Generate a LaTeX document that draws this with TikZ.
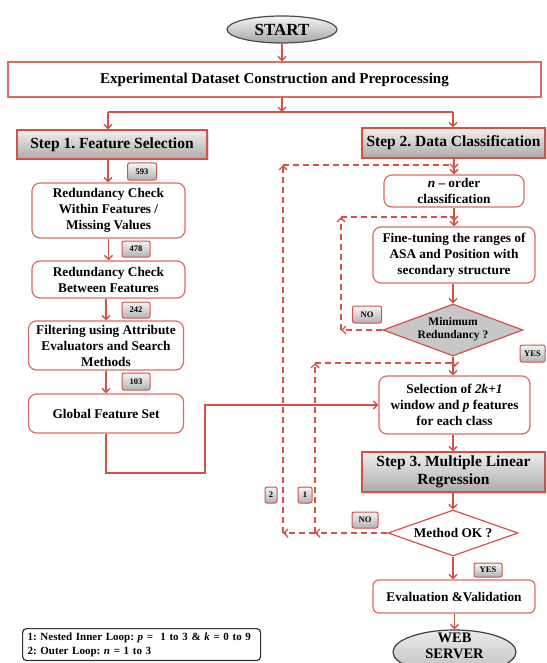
\documentclass[tikz,border=0pt]{standalone}
\usepackage{fontspec}
\setmainfont{Liberation Serif}
\usetikzlibrary{arrows.meta,shadows,calc,shapes.geometric}
\definecolor{rd}{RGB}{210,82,72}
\definecolor{bx}{RGB}{220,108,98}
\frenchspacing
\tikzset{
 tipa/.tip={Straight Barb[length=4pt,width=8pt]},
 arr/.style={draw=rd, line width=1.4pt, -tipa},
 ln/.style={draw=rd, line width=1.4pt},
 dsh/.style={draw=rd, line width=1.4pt, dash pattern=on 6pt off 4pt, -tipa},
 txt/.style={font=\fontsize{13.3}{16}\selectfont\bfseries, align=center},
 rbox/.style={txt, draw=bx, line width=1.2pt, rounded corners=8pt, fill=white, inner sep=0pt},
 stepbox/.style={draw=rd, line width=1.2pt, top color=white!94!black, bottom color=black!33,
   align=center, font=\fontsize{15.5}{18}\selectfont\bfseries, inner sep=0pt,
   drop shadow={opacity=0.25,shadow xshift=1.5pt,shadow yshift=-1.5pt}},
 tag/.style={draw=rd, line width=1pt, rounded corners=2pt, top color=white!96!black,
   bottom color=black!30, font=\fontsize{8.5}{9}\selectfont\bfseries, inner sep=0pt},
 term/.style={ellipse, draw=black!70, line width=1.2pt, top color=white!96!black, bottom color=black!35,
   align=center, inner sep=0pt},
}
\begin{document}
\begin{tikzpicture}[x=1pt,y=-1pt]
\useasboundingbox (0,0) rectangle (546,663);
\fill[white] (0,0) rectangle (546,663);

% top
\node[term, minimum width=110pt, minimum height=27pt, font=\fontsize{17}{18}\selectfont\bfseries] (start) at (282,29.5) {START};
\node[draw=bx, line width=1.2pt, fill=white, minimum width=533pt, minimum height=35pt, inner sep=0pt,
  font=\fontsize{15}{18}\selectfont\bfseries] (exp) at (274.5,79.5) {Experimental Dataset Construction and Preprocessing};
\coordinate (split) at (282,112);
\coordinate (sl) at (108,112);
\coordinate (sr) at (453,112);
\draw[arr] (start.south) -- (start.south |- exp.north);
\draw[arr] (split |- exp.south) -- (split);
\draw[ln] (sl) -- (sr);

\node[stepbox, minimum width=190pt, minimum height=29pt] (step1) at (112,144.5) {Step 1. Feature Selection};
\node[stepbox, minimum width=183pt, minimum height=30pt] (step2) at (453.5,143) {Step 2. Data Classification};
\draw[arr] (sl) -- (sl |- step1.north);
\draw[arr] (sr) -- (sr |- step2.north);

% left column
\node[rbox, minimum width=153pt, minimum height=55pt] (r1) at (108.5,210.5) {Redundancy Check\\Within Features /\\Missing Values};
\node[rbox, minimum width=153pt, minimum height=37pt] (r2) at (108.5,279.5) {Redundancy Check\\Between Features};
\node[rbox, minimum width=155pt, minimum height=49pt] (r3) at (106,345.5) {Filtering using Attribute\\Evaluators and Search\\Methods};
\node[rbox, minimum width=155pt, minimum height=39pt] (glob) at (106,413.5) {Global Feature Set};

\draw[arr] (sl |- step1.south) -- (sl |- r1.north);
\draw[arr] (r1.south) -- (r2.north);
\draw[arr] (r2.south -| r3.north) -- (r3.north);
\draw[arr] (r3.south) -- (glob.north);

\node[tag, minimum width=29pt, minimum height=17pt] (t593) at (142,171.5) {593};
\node[tag, minimum width=28pt, minimum height=16pt] (t478) at (136,249) {478};
\node[tag, minimum width=28pt, minimum height=16pt] (t242) at (136,310) {242};
\node[tag, minimum width=28pt, minimum height=17pt] (t103) at (136,381.5) {103};

% right column
\node[rbox, minimum width=140pt, minimum height=32pt] (nord) at (454,191) {\textit{n} -- order\\classification};
\node[rbox, minimum width=162pt, minimum height=56pt] (ft) at (454,255) {Fine-tuning the ranges of\\ASA and Position with\\secondary structure};
\node[diamond, draw=rd, line width=1.2pt, fill=black!22, minimum width=140pt, minimum height=52pt, inner sep=0pt] (mr) at (453,330) {};
\node[font=\fontsize{11.5}{13}\selectfont\bfseries, align=center] (mrt) at (453,329) {Minimum\\Redundancy ?};
\node[rbox, minimum width=151pt, minimum height=58pt] (sel) at (454.5,405) {Selection of \textit{2k+1}\\window and \textit{p} features\\for each class};
\node[stepbox, minimum width=183pt, minimum height=40pt] (step3) at (453.5,472) {Step 3. Multiple Linear\\Regression};
\node[diamond, draw=rd, line width=1.2pt, fill=white, minimum width=130pt, minimum height=46pt, inner sep=0pt] (mok) at (453,533) {};
\node[txt] (mokt) at (453,533) {Method OK ?};
\node[rbox, rounded corners=6pt, minimum width=162pt, minimum height=33pt] (eval) at (454,596.5) {Evaluation \&Validation};
\node[term, draw=black!75, top color=black!8, bottom color=black!25, minimum width=123pt, minimum height=44pt] (web) at (454.5,652) {};
\node[font=\fontsize{14.5}{15.5}\selectfont\bfseries, align=center] (webt) at (454.5,646) {WEB\\SERVER};

\draw[arr] (step2.south -| nord.north) -- (nord.north);
\draw[arr] (nord.south) -- (ft.north);
\draw[arr] (ft.south -| mr.north) -- (mr.north);
\draw[arr] (mr.south) -- (mr.south |- sel.north);
\draw[arr] (sel.south -| mr.south) -- (mr.south |- step3.north);
\draw[arr] (step3.south -| mok.north) -- (mok.north);
\draw[arr] (mok.south) -- (mok.south |- eval.north);
\draw[arr] (eval.south -| web.north) -- (web.north);

\node[tag, minimum width=29pt, minimum height=17pt] (no1) at (367,314.5) {NO};
\node[tag, minimum width=25pt, minimum height=17pt] (yes1) at (532.5,353.5) {YES};
\node[tag, minimum width=26pt, minimum height=16pt] (no2) at (365,520) {NO};
\node[tag, minimum width=28pt, minimum height=14pt] (yes2) at (488,570) {YES};
\node[tag, minimum width=12pt, minimum height=16pt] (tg2) at (271,495) {2};
\node[tag, minimum width=14pt, minimum height=16pt] (tg1) at (305,495) {1};

% global feature set to selection
\coordinate (g1) at (106,473);
\coordinate (g2) at (205,473);
\coordinate (g3) at (205,405);
\draw[arr] (glob.south) -- (g1) -- (g2) -- (g3) -- (sel.west);

% dashed loops
\coordinate (c0b) at (341,330);
\coordinate (c0t) at (341,217);
\coordinate (c1b) at (315,533);
\coordinate (c1t) at (315,363);
\coordinate (c2b) at (283,533);
\coordinate (c2t) at (283,165);
\draw[dsh] (mr.west) -- (c0b);
\draw[dsh] (c0b) -- (c0t);
\draw[dsh] (c0t) -- (c0t -| ft.north) -- ++(0,4);
\draw[dsh] (mok.west) -- (c1b);
\draw[dsh] (c1b) -- (c2b);
\draw[dsh] (c1b) -- (c1t);
\draw[dsh] (c1t) -- (c1t -| sel.north) -- ++(0,4);
\draw[dsh] (c2b) -- (c2t);
\draw[dsh] (c2t) -- (c2t -| nord.north) -- ++(0,4);

% legend
\node[draw=black!80, line width=1.2pt, rounded corners=4pt, align=left, anchor=north west,
  text width=228pt, inner xsep=5pt, inner ysep=4pt, font=\fontsize{11}{14}\selectfont\bfseries] (leg) at (22,628)
  {1: Nested Inner Loop: \textit{p} =\ \ 1 to 3 \& \textit{k} = 0 to 9\\2: Outer Loop: \textit{n} = 1 to 3};
\end{tikzpicture}
\end{document}
